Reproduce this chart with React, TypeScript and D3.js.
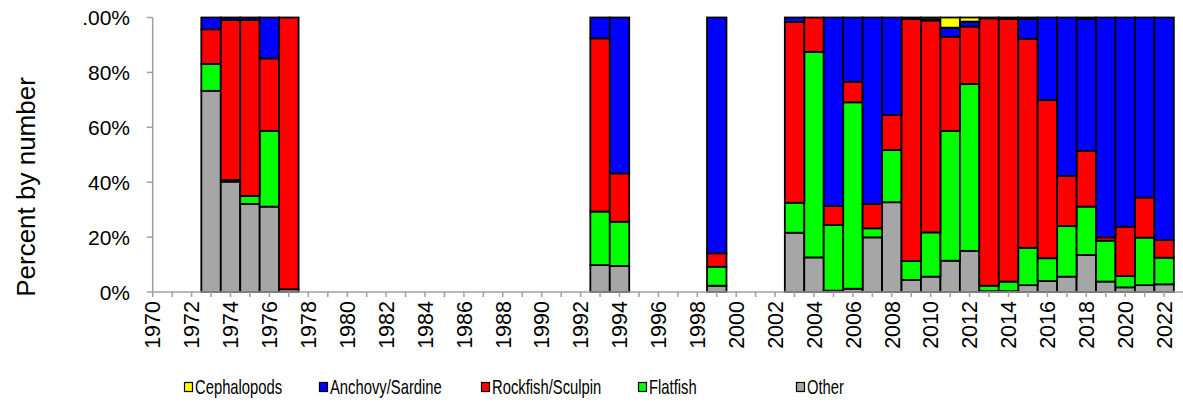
import React from "react";
import * as d3 from "d3";

const years = [1973, 1974, 1975, 1976, 1977, 1993, 1994, 1999, 2003, 2004, 2005, 2006, 2007, 2008, 2009, 2010, 2011, 2012, 2013, 2014, 2015, 2016, 2017, 2018, 2019, 2020, 2021, 2022];
const other = [73.3, 40.2, 32.1, 31.1, 1.0, 9.8, 9.5, 2.3, 21.6, 12.6, 0.5, 1.2, 19.9, 32.7, 4.4, 5.6, 11.4, 15.0, 0.3, 0.3, 2.5, 4.0, 5.6, 13.5, 3.8, 1.7, 2.5, 2.8];
const flatfish = [9.8, 0.6, 2.9, 27.6, 0, 19.5, 16.1, 6.9, 10.9, 74.9, 23.9, 67.9, 3.3, 19.0, 6.9, 16.1, 47.3, 60.8, 2.0, 3.5, 13.6, 8.3, 18.4, 17.6, 14.9, 4.1, 17.3, 9.7];
const rockfish = [12.6, 58.3, 64.1, 26.4, 99.0, 63.1, 17.6, 4.9, 65.9, 12.5, 6.9, 7.5, 8.9, 12.8, 88.2, 77.2, 34.3, 20.9, 97.4, 95.7, 76.1, 57.6, 18.3, 20.3, 1.2, 18.0, 14.6, 6.4];
const anchovy = [4.3, 0.9, 0.9, 14.9, 0, 7.6, 56.8, 85.9, 1.6, 0, 68.7, 23.4, 67.9, 35.5, 0.5, 0.4, 3.3, 1.8, 0.3, 0.5, 7.3, 30.1, 57.7, 48.1, 80.1, 76.2, 65.6, 81.1];
const cephalopods = [0, 0, 0, 0, 0, 0, 0, 0, 0, 0, 0, 0, 0, 0, 0, 0.7, 3.7, 1.5, 0, 0, 0.5, 0, 0, 0.5, 0, 0, 0, 0];

const seriesKeys = ["Other", "Flatfish", "Rockfish/Sculpin", "Anchovy/Sardine", "Cephalopods"];
const seriesColors = ["#A6A6A6", "#00FF00", "#FF0000", "#0000FF", "#FFFF00"];
const legendOrder = ["Cephalopods", "Anchovy/Sardine", "Rockfish/Sculpin", "Flatfish", "Other"];
const yTicks = [0, 20, 40, 60, 80, 100];
const yTickLabels = ["0%", "20%", "40%", "60%", "80%", ".00%"];
const xLabelYears = d3.range(1970, 2023, 2);
const xTickYears = d3.range(1970, 2024, 1);

const W = 1183;
const H = 409;
const x0 = 152.7;
const step = 19.45;

export default function App() {
  const x = d3.scaleLinear().domain([1970, 2023]).range([x0, x0 + 53 * step]);
  const y = d3.scaleLinear().domain([0, 100]).range([292, 17.5]);

  const rows = years.map((yr, i) => ({
    year: yr,
    Other: other[i],
    Flatfish: flatfish[i],
    "Rockfish/Sculpin": rockfish[i],
    "Anchovy/Sardine": anchovy[i],
    Cephalopods: cephalopods[i],
  }));
  const stacked = d3.stack<any>().keys(seriesKeys)(rows);
  const bw = x(1971) - x(1970);
  const colorOf = (k: string) => seriesColors[seriesKeys.indexOf(k)];

  const legendX = [184, 319, 481, 638, 796];
  const axisColor = "#A0A0A0";
  const font = "Liberation Sans, Arial, sans-serif";

  return (
    <div style={{ position: "fixed", left: 0, top: 0 }}>
      <svg width={W} height={H} style={{ display: "block", background: "#fff" }}>
        {stacked.map((s) => (
          <g key={s.key} fill={colorOf(s.key)}>
            {s.map((d, i) =>
              d[1] - d[0] > 0 ? (
                <rect
                  key={i}
                  x={x(d.data.year) - bw / 2}
                  y={y(d[1])}
                  width={bw}
                  height={y(d[0]) - y(d[1])}
                  stroke="#000"
                  strokeWidth={1.8}
                />
              ) : null
            )}
          </g>
        ))}
        {/* y axis */}
        <line x1={x0} x2={x0} y1={y(100)} y2={y(0)} stroke={axisColor} strokeWidth={1.5} />
        {yTicks.map((t, i) => (
          <g key={t}>
            <line x1={x0 - 6} x2={x0} y1={y(t)} y2={y(t)} stroke={axisColor} strokeWidth={1.5} />
            <text x={130} y={y(t)} dy="0.36em" textAnchor="end" fontFamily={font} fontSize={21} fill="#000">
              {yTickLabels[i]}
            </text>
          </g>
        ))}
        {/* x axis */}
        <line x1={x0} x2={W} y1={y(0)} y2={y(0)} stroke={axisColor} strokeWidth={1.5} />
        {xTickYears.map((yr) => (
          <line key={yr} x1={x(yr)} x2={x(yr)} y1={y(0)} y2={y(0) + 5} stroke={axisColor} strokeWidth={1.5} />
        ))}
        {xLabelYears.map((yr) => (
          <text
            key={yr}
            transform={`translate(${x(yr)},301) rotate(-90)`}
            dy="0.36em"
            textAnchor="end"
            fontFamily={font}
            fontSize={21.5}
            fill="#000"
          >
            {yr}
          </text>
        ))}
        {/* y title */}
        <text
          transform={`translate(35,187) rotate(-90)`}
          textAnchor="middle"
          fontFamily={font}
          fontSize={26}
          fill="#000"
        >
          Percent by number
        </text>
        {/* legend */}
        {legendOrder.map((k, i) => (
          <g key={k} transform={`translate(${legendX[i]},387)`}>
            <rect x={0.5} y={-4.5} width={8} height={9} fill={colorOf(k)} stroke="#000" strokeWidth={1.2} />
            <text
              transform="translate(11,0) scale(0.74,1)"
              dy="0.36em"
              fontFamily={font}
              fontSize={20}
              fill="#000"
            >
              {k}
            </text>
          </g>
        ))}
      </svg>
    </div>
  );
}
